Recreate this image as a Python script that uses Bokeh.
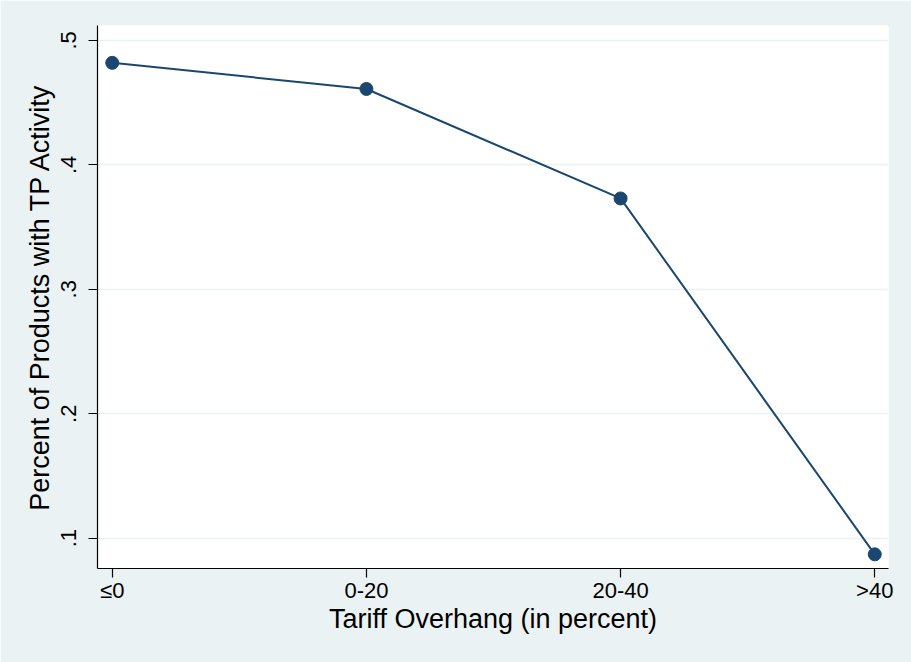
from bokeh.plotting import figure
from bokeh.models import Range1d, FixedTicker
from bokeh.embed import file_html
from bokeh.resources import INLINE

categories = ["≤0", "0-20", "20-40", ">40"]
share_tp = [0.482, 0.461, 0.373, 0.087]
y_ticks = [0.1, 0.2, 0.3, 0.4, 0.5]
y_tick_labels = [".1", ".2", ".3", ".4", ".5"]

BG = "#EAF2F3"
NAVY = "#1A476F"
FONT = "Liberation Sans"

x_pos = list(range(1, len(categories) + 1))

p = figure(width=911, height=662, output_backend="svg", toolbar_location=None,
           x_range=Range1d(0.942, 4.054), y_range=Range1d(0.0756, 0.512),
           min_border_left=97, min_border_right=23, min_border_top=25, min_border_bottom=94)

p.background_fill_color = "white"
p.border_fill_color = BG
p.outline_line_color = None

p.line(x_pos, share_tp, line_color=NAVY, line_width=2)
p.scatter(x_pos, share_tp, size=13, fill_color=NAVY, line_color=NAVY)

# x axis
p.xaxis.ticker = FixedTicker(ticks=x_pos)
p.xaxis.major_label_overrides = {x: c for x, c in zip(x_pos, categories)}
p.xaxis.axis_label = "Tariff Overhang (in percent)"
# y axis
p.yaxis.ticker = FixedTicker(ticks=y_ticks)
p.yaxis.major_label_overrides = {t: l for t, l in zip(y_ticks, y_tick_labels)}
p.yaxis.axis_label = "Percent of Products with TP Activity"
p.yaxis.major_label_orientation = "parallel"

for ax in (p.xaxis, p.yaxis):
    ax.axis_line_color = "black"
    ax.axis_line_width = 1.2
    ax.major_tick_line_color = "black"
    ax.major_tick_line_width = 1.2
    ax.major_tick_out = 9
    ax.major_tick_in = 0
    ax.minor_tick_line_color = None
    ax.major_label_text_font = FONT
    ax.major_label_text_font_size = "22px"
    ax.major_label_text_color = "black"
    ax.axis_label_text_font = FONT
    ax.axis_label_text_font_size = "27px"
    ax.axis_label_text_font_style = "normal"
    ax.axis_label_text_color = "black"

p.xaxis.major_label_standoff = 0
p.xaxis.axis_label_standoff = -2
p.yaxis.major_label_standoff = 12
p.yaxis.axis_label_standoff = 4

p.xgrid.grid_line_color = None
p.ygrid.grid_line_color = BG
p.ygrid.grid_line_width = 1.5

open("out.html", "w").write(file_html(p, INLINE))
